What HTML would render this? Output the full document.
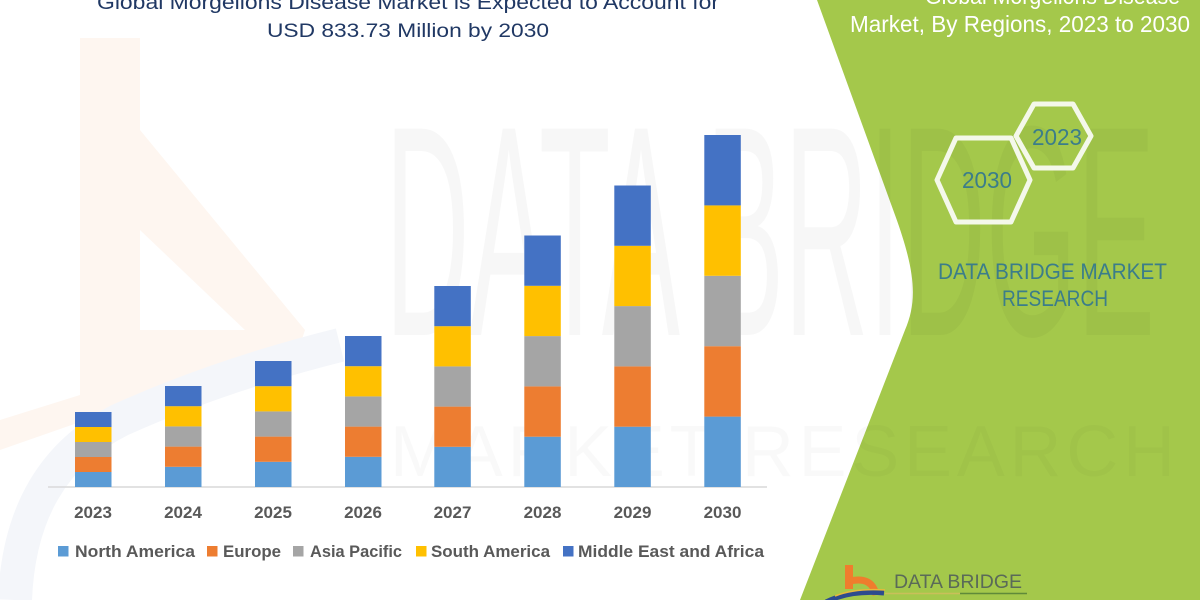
<!DOCTYPE html>
<html>
<head>
<meta charset="utf-8">
<style>
html,body{margin:0;padding:0;background:#fff;}
body{width:1200px;height:600px;overflow:hidden;}
svg{display:block;}
text{font-family:"Liberation Sans",sans-serif;}
</style>
</head>
<body>
<svg width="1200" height="600" viewBox="0 0 1200 600" xmlns="http://www.w3.org/2000/svg">
  <rect x="0" y="0" width="1200" height="600" fill="#ffffff"/>

  <!-- faint logo watermark (orange b + blue swoosh) -->
  <g>
    <path d="M80 38 L140 38 L140 130 L305 330 L300 345 L0 450 L0 420 L80 395 Z" fill="#fef6f0"/>
    <path d="M140 230 L140 330 L245 330 Z" fill="#ffffff"/>
    <path d="M15 600 Q20 470 120 420 Q220 375 340 345" fill="none" stroke="#f4f6fa" stroke-width="34"/>
  </g>

  <!-- green panel -->
  <path d="M817 0 L895 215 C915 270 918 300 905 330 L800 600 L1200 600 L1200 0 Z" fill="#a4c84b"/>

  <!-- big faint watermark text -->
  <text x="385" y="335" font-size="300" textLength="770" lengthAdjust="spacingAndGlyphs" fill="#000" fill-opacity="0.03">DATA BRIDGE</text>
  <text x="390" y="476" font-size="72" textLength="785" lengthAdjust="spacing" fill="#000" fill-opacity="0.025">MARKET RESEARCH</text>

  <!-- left title -->
  <text x="97" y="9" font-size="20" textLength="622" lengthAdjust="spacingAndGlyphs" fill="#203864">Global Morgellons Disease Market is Expected to Account for</text>
  <text x="267" y="37" font-size="19" textLength="282" lengthAdjust="spacingAndGlyphs" fill="#203864">USD 833.73 Million by 2030</text>

  <!-- right title -->
  <text x="925" y="4" font-size="23" textLength="255" lengthAdjust="spacingAndGlyphs" fill="#ffffff">Global Morgellons Disease</text>
  <text x="850" y="32" font-size="23" textLength="340" lengthAdjust="spacingAndGlyphs" fill="#ffffff">Market, By Regions, 2023 to 2030</text>

  <!-- hexagons -->
  <polygon points="937,180 956,138 1011,138 1030,180 1011,222 956,222" fill="none" stroke="#f4f8ea" stroke-width="5" stroke-linejoin="round"/>
  <polygon points="1016,136 1034,104 1073,104 1091,136 1073,168 1034,168" fill="none" stroke="#f4f8ea" stroke-width="5" stroke-linejoin="round"/>
  <text x="962" y="188" font-size="23" textLength="50" lengthAdjust="spacingAndGlyphs" fill="#3b7d8a">2030</text>
  <text x="1032" y="145" font-size="23" textLength="50" lengthAdjust="spacingAndGlyphs" fill="#3b7d8a">2023</text>

  <text x="938" y="279" font-size="22" textLength="229" lengthAdjust="spacingAndGlyphs" fill="#3b7d8a">DATA BRIDGE MARKET</text>
  <text x="1002" y="306" font-size="22" textLength="106" lengthAdjust="spacingAndGlyphs" fill="#3b7d8a">RESEARCH</text>

  <!-- bottom logo -->
  <rect x="845" y="565" width="8" height="24" fill="#ef7d2d"/>
  <path d="M850 581 Q872 576 876 595" fill="none" stroke="#ef7d2d" stroke-width="7"/>
  <path d="M826 602 Q850 590 884 593" fill="none" stroke="#2d4b8e" stroke-width="5"/>
  <path d="M835 596 Q855 588 885 590" fill="none" stroke="#e9b93a" stroke-width="1.5"/>
  <text x="894" y="588" font-size="19" textLength="128" lengthAdjust="spacingAndGlyphs" fill="#5a6a58">DATA BRIDGE</text>
  <line x1="885" y1="593.5" x2="960" y2="593.5" stroke="#c9bf5a" stroke-width="1.5"/>
  <line x1="960" y1="593.5" x2="1027" y2="593.5" stroke="#5f8a3a" stroke-width="1.5"/>

  <!-- axis line -->
  <line x1="48" y1="487" x2="767" y2="487" stroke="#d9d9d9" stroke-width="1.5"/>

  <!-- bars: 2023 (15) -->
  <g>
    <rect x="75" y="472" width="36.5" height="15" fill="#5b9bd5"/>
    <rect x="75" y="457" width="36.5" height="15" fill="#ed7d31"/>
    <rect x="75" y="442" width="36.5" height="15" fill="#a5a5a5"/>
    <rect x="75" y="427" width="36.5" height="15" fill="#ffc000"/>
    <rect x="75" y="412" width="36.5" height="15" fill="#4472c4"/>
  </g>
  <!-- 2024 (20.2) -->
  <g>
    <rect x="165" y="466.8" width="36.5" height="20.2" fill="#5b9bd5"/>
    <rect x="165" y="446.6" width="36.5" height="20.2" fill="#ed7d31"/>
    <rect x="165" y="426.4" width="36.5" height="20.2" fill="#a5a5a5"/>
    <rect x="165" y="406.2" width="36.5" height="20.2" fill="#ffc000"/>
    <rect x="165" y="386" width="36.5" height="20.2" fill="#4472c4"/>
  </g>
  <!-- 2025 (25.2) -->
  <g>
    <rect x="255" y="461.8" width="36.5" height="25.2" fill="#5b9bd5"/>
    <rect x="255" y="436.6" width="36.5" height="25.2" fill="#ed7d31"/>
    <rect x="255" y="411.4" width="36.5" height="25.2" fill="#a5a5a5"/>
    <rect x="255" y="386.2" width="36.5" height="25.2" fill="#ffc000"/>
    <rect x="255" y="361" width="36.5" height="25.2" fill="#4472c4"/>
  </g>
  <!-- 2026 (30.2) -->
  <g>
    <rect x="345" y="456.8" width="36.5" height="30.2" fill="#5b9bd5"/>
    <rect x="345" y="426.6" width="36.5" height="30.2" fill="#ed7d31"/>
    <rect x="345" y="396.4" width="36.5" height="30.2" fill="#a5a5a5"/>
    <rect x="345" y="366.2" width="36.5" height="30.2" fill="#ffc000"/>
    <rect x="345" y="336" width="36.5" height="30.2" fill="#4472c4"/>
  </g>
  <!-- 2027 (40.2) -->
  <g>
    <rect x="434.3" y="446.8" width="36.5" height="40.2" fill="#5b9bd5"/>
    <rect x="434.3" y="406.6" width="36.5" height="40.2" fill="#ed7d31"/>
    <rect x="434.3" y="366.4" width="36.5" height="40.2" fill="#a5a5a5"/>
    <rect x="434.3" y="326.2" width="36.5" height="40.2" fill="#ffc000"/>
    <rect x="434.3" y="286" width="36.5" height="40.2" fill="#4472c4"/>
  </g>
  <!-- 2028 (50.3) -->
  <g>
    <rect x="524.3" y="436.7" width="36.5" height="50.3" fill="#5b9bd5"/>
    <rect x="524.3" y="386.4" width="36.5" height="50.3" fill="#ed7d31"/>
    <rect x="524.3" y="336.1" width="36.5" height="50.3" fill="#a5a5a5"/>
    <rect x="524.3" y="285.8" width="36.5" height="50.3" fill="#ffc000"/>
    <rect x="524.3" y="235.5" width="36.5" height="50.3" fill="#4472c4"/>
  </g>
  <!-- 2029 (60.3) -->
  <g>
    <rect x="614.3" y="426.7" width="36.5" height="60.3" fill="#5b9bd5"/>
    <rect x="614.3" y="366.4" width="36.5" height="60.3" fill="#ed7d31"/>
    <rect x="614.3" y="306.1" width="36.5" height="60.3" fill="#a5a5a5"/>
    <rect x="614.3" y="245.8" width="36.5" height="60.3" fill="#ffc000"/>
    <rect x="614.3" y="185.5" width="36.5" height="60.3" fill="#4472c4"/>
  </g>
  <!-- 2030 (70.4) -->
  <g>
    <rect x="704.3" y="416.6" width="36.5" height="70.4" fill="#5b9bd5"/>
    <rect x="704.3" y="346.2" width="36.5" height="70.4" fill="#ed7d31"/>
    <rect x="704.3" y="275.8" width="36.5" height="70.4" fill="#a5a5a5"/>
    <rect x="704.3" y="205.4" width="36.5" height="70.4" fill="#ffc000"/>
    <rect x="704.3" y="135" width="36.5" height="70.4" fill="#4472c4"/>
  </g>

  <!-- year labels -->
  <g font-size="17" font-weight="bold" fill="#595959" text-anchor="middle">
    <text x="93" y="518">2023</text>
    <text x="183" y="518">2024</text>
    <text x="273" y="518">2025</text>
    <text x="363" y="518">2026</text>
    <text x="452.5" y="518">2027</text>
    <text x="542.5" y="518">2028</text>
    <text x="632.5" y="518">2029</text>
    <text x="722.5" y="518">2030</text>
  </g>

  <!-- legend -->
  <g font-size="17" font-weight="bold" fill="#595959">
    <rect x="58" y="546" width="10.5" height="10.5" fill="#5b9bd5"/>
    <text x="75" y="557" textLength="120" lengthAdjust="spacingAndGlyphs">North America</text>
    <rect x="207" y="546" width="10.5" height="10.5" fill="#ed7d31"/>
    <text x="223" y="557" textLength="58" lengthAdjust="spacingAndGlyphs">Europe</text>
    <rect x="293" y="546" width="10.5" height="10.5" fill="#a5a5a5"/>
    <text x="310" y="557" textLength="92" lengthAdjust="spacingAndGlyphs">Asia Pacific</text>
    <rect x="416" y="546" width="10.5" height="10.5" fill="#ffc000"/>
    <text x="431" y="557" textLength="119" lengthAdjust="spacingAndGlyphs">South America</text>
    <rect x="563" y="546" width="10.5" height="10.5" fill="#4472c4"/>
    <text x="578" y="557" textLength="186" lengthAdjust="spacingAndGlyphs">Middle East and Africa</text>
  </g>
</svg>
</body>
</html>
